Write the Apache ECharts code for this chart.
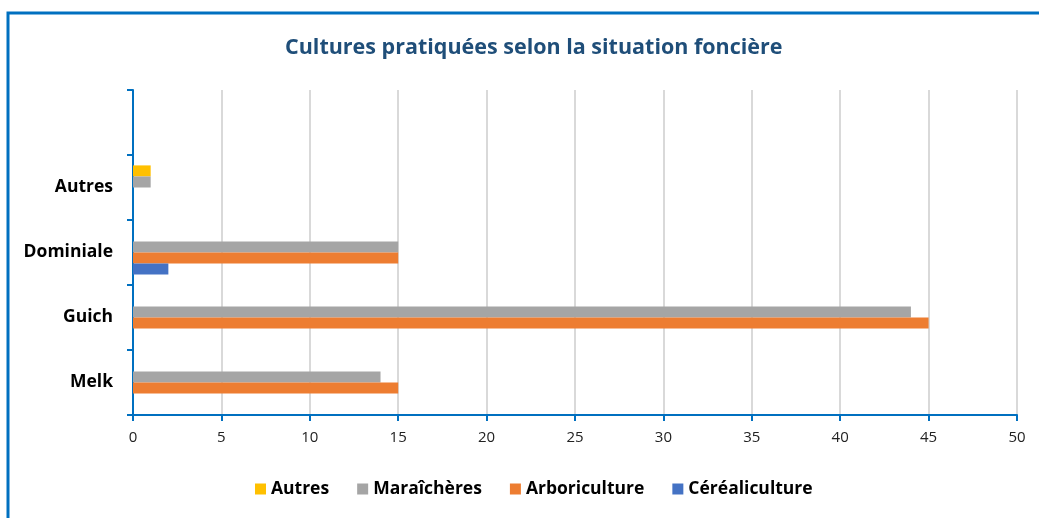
<!DOCTYPE html>
<html>
<head>
<meta charset="utf-8">
<script src="https://cdn.jsdelivr.net/npm/echarts@6/dist/echarts.min.js"></script>
<style>
  html, body { margin: 0; padding: 0; background: #fff; }
  #chart { width: 1039px; height: 518px; }
</style>
</head>
<body>
<div id="chart"></div>
<script>
// categories bottom to top (the last one is an empty slot, as in the original)
const categories = ['Melk', 'Guich', 'Dominiale', 'Autres', ''];

const autres = [0, 0, 0, 1, 0];
const maraicheres = [14, 44, 15, 1, 0];
const arboriculture = [15, 45, 15, 0, 0];
const cerealiculture = [0, 0, 2, 0, 0];

const font = '"Open Sans", sans-serif';
const axisBlue = '#0070C0';

let chart = echarts.init(document.getElementById('chart'));

function barSeries(name, data, color) {
    return {
        name: name,
        type: 'bar',
        data: data,
        barGap: '0%',
        barCategoryGap: '32%',
        itemStyle: { color: color }
    };
}

chart.setOption({
    animation: false,
    textStyle: { fontFamily: font },
    title: {
        text: 'Cultures pratiquées selon la situation foncière',
        left: 280,
        top: 32,
        textStyle: { color: '#1F4E79', fontSize: 21.5, fontWeight: 'bold', fontFamily: font }
    },
    legend: {
        bottom: 15,
        left: 250,
        itemWidth: 11,
        itemHeight: 11,
        itemGap: 28,
        icon: 'rect',
        textStyle: { color: '#000', fontSize: 17.5, fontWeight: 'bold', fontFamily: font }
    },
    grid: { left: 133, right: 22, top: 90, bottom: 103 },
    xAxis: {
        type: 'value',
        min: 0,
        max: 50,
        interval: 5,
        axisLine: { show: true, lineStyle: { color: axisBlue, width: 2 } },
        axisTick: { show: true, length: 6, lineStyle: { color: axisBlue, width: 2 } },
        axisLabel: { color: '#222', fontSize: 15, margin: 15, fontFamily: font },
        splitLine: { show: true, lineStyle: { color: '#D9D9D9', width: 2 } }
    },
    yAxis: {
        type: 'category',
        data: categories,
        axisLine: { show: true, lineStyle: { color: axisBlue, width: 2 } },
        axisTick: { show: true, length: 6, lineStyle: { color: axisBlue, width: 2 } },
        axisLabel: { color: '#000', fontSize: 17.5, fontWeight: 'bold', margin: 20, fontFamily: font },
        splitLine: { show: false }
    },
    // first series is drawn at the top of each band
    series: [
        barSeries('Autres', autres, '#FFC000'),
        barSeries('Maraîchères', maraicheres, '#A5A5A5'),
        barSeries('Arboriculture', arboriculture, '#ED7D31'),
        barSeries('Céréaliculture', cerealiculture, '#4472C4')
    ],
    graphic: [{
        type: 'rect',
        shape: { x: 8, y: 13, width: 1200, height: 700 },
        style: { fill: 'none', stroke: axisBlue, lineWidth: 3 },
        silent: true
    }]
});
</script>
</body>
</html>
